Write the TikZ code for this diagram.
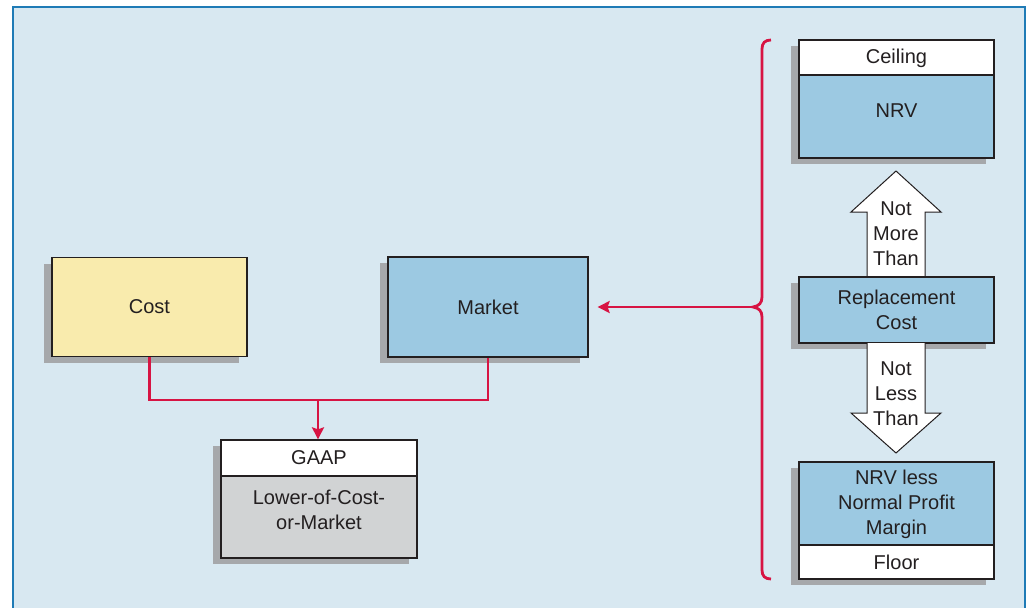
\documentclass[tikz,border=0pt]{standalone}
\usepackage{fontspec}
\setmainfont{Liberation Sans}
\usetikzlibrary{arrows.meta,shadows}
\definecolor{bgblue}{HTML}{D8E8F1}
\definecolor{frameblue}{HTML}{1F7BB6}
\definecolor{boxyellow}{HTML}{F9EBAD}
\definecolor{boxblue}{HTML}{9CC9E2}
\definecolor{boxgray}{HTML}{D1D3D4}
\definecolor{shadowgray}{HTML}{A6A8AB}
\definecolor{linered}{HTML}{D71443}
\definecolor{ink}{HTML}{231F20}
\tikzset{
  box/.style={draw=ink, line width=1.3pt, rectangle, inner sep=0pt, align=center,
    text=ink, font=\fontsize{20}{25}\selectfont,
    drop shadow={shadow xshift=-8pt, shadow yshift=-6pt, fill=shadowgray, opacity=1}},
  conn/.style={draw=linered, line width=2.8pt},
  tip/.style={-{Stealth[length=12pt,width=12pt,inset=2pt]}},
  blockarrow/.style={fill=white, draw=ink, line width=1pt, line join=miter},
  lbl/.style={text=ink, font=\fontsize{20}{25}\selectfont, align=center, inner sep=0pt}
}
\newcommand{\up}[2]{\raisebox{#1}[\height][\depth]{#2}}
\begin{document}
\begin{tikzpicture}[x=1pt,y=-1pt]
\useasboundingbox (0,0) rectangle (1026,608);
\fill[white] (0,0) rectangle (1026,608);
% frame
\filldraw[fill=bgblue, draw=frameblue, line width=1.6pt] (12.8,6.8) rectangle (1025,640);

% left side
\node[box, fill=boxyellow, minimum width=195pt, minimum height=99pt] (cost) at (149.5,307) {Cost};
\node[box, fill=boxblue, minimum width=200pt, minimum height=100pt] (market) at (488,307) {Market};
\node[box, fill=white, minimum width=196pt, minimum height=36pt] (gaap) at (319,458) {GAAP};
\node[box, fill=boxgray, minimum width=196pt, minimum height=82pt] (lcm) at (319,517) {\up{5pt}{\begin{tabular}{@{}c@{}}Lower-of-Cost-\\or-Market\end{tabular}}};

% connectors left
\coordinate (j) at (318,400);
\draw[conn, line join=miter] (cost.south) |- (j) -| (market.south);
\draw[conn, tip] (j) -- (j |- gaap.north);

% right column
\node[box, fill=white, minimum width=195pt, minimum height=35pt] (ceil) at (896.5,57.5) {\up{-1pt}{Ceiling}};
\node[box, fill=boxblue, minimum width=195pt, minimum height=83pt] (nrv) at (896.5,116.5) {\up{6pt}{NRV}};

% up block arrow
\draw[blockarrow] (867,277) -- (867,212) -- (851,212) -- (896,171) -- (941,212) -- (925,212) -- (925,277);
\node[lbl] (nmt) at (896,234) {Not\\More\\Than};

\node[box, fill=boxblue, minimum width=195pt, minimum height=66pt] (repl) at (896.5,310) {Replacement\\Cost};

% down block arrow
\fill[white] (867,343) -- (867,413) -- (851,413) -- (896,453) -- (941,413) -- (925,413) -- (925,343) -- cycle;
\draw[blockarrow, fill=none] (867,343) -- (867,413) -- (851,413) -- (896,453) -- (941,413) -- (925,413) -- (925,343);
\node[lbl] (nlt) at (896,393.5) {Not\\Less\\Than};

\node[box, fill=boxblue, minimum width=195pt, minimum height=83pt] (nrvl) at (896.5,503.5) {\up{-1pt}{\begin{tabular}{@{}c@{}}NRV less\\Normal Profit\\Margin\end{tabular}}};
\node[box, fill=white, minimum width=195pt, minimum height=34pt] (floor) at (896.5,562) {Floor};

% brace
\coordinate (bt) at (753,307);
\draw[conn, line cap=butt] (771,40) .. controls (765,40) and (762,43) .. (762,49) -- (762,297)
  .. controls (762,303) and (759,306) .. (bt) .. controls (759,308) and (762,311) .. (762,317)
  -- (762,570) .. controls (762,576) and (765,579) .. (771,579);
\draw[conn, tip, shorten >=9pt] (bt) -- (market.east);
\end{tikzpicture}
\end{document}
